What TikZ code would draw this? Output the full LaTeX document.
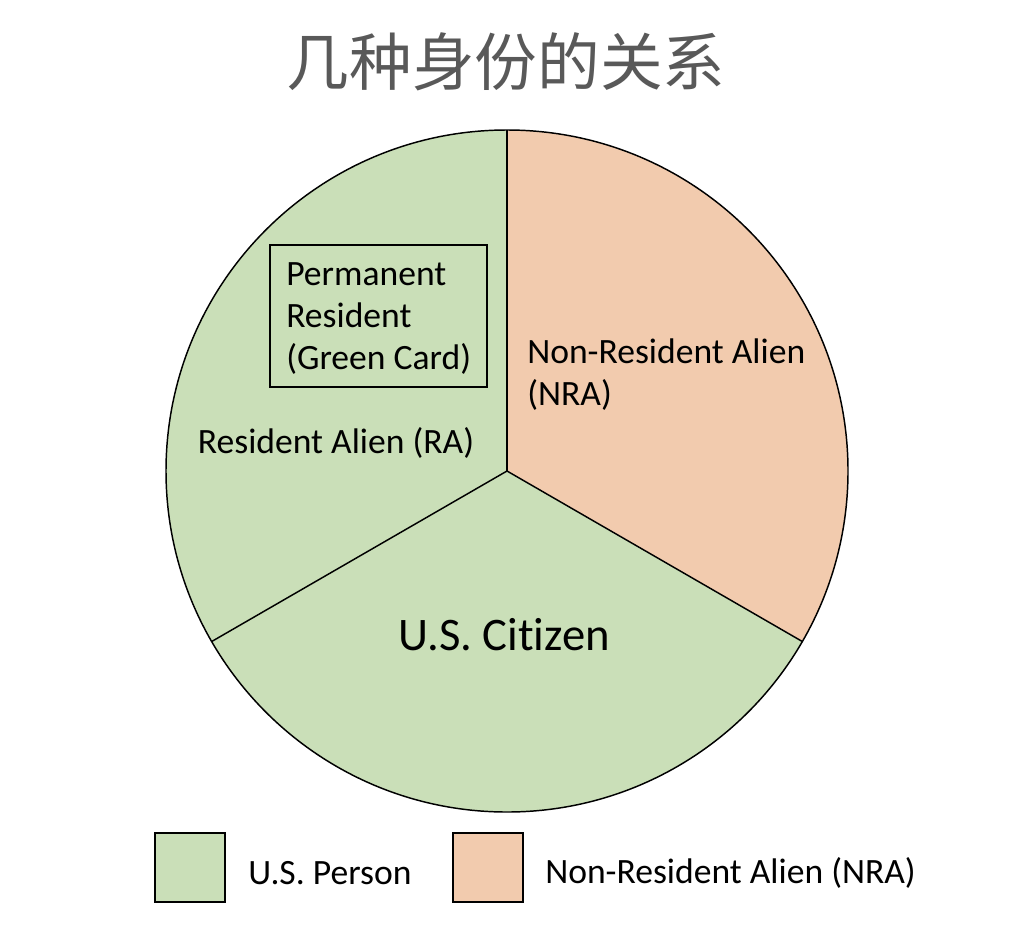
\documentclass[tikz,border=0pt]{standalone}
\usepackage{fontspec}
\setmainfont[Ligatures={NoCommon}]{Carlito}
\newfontfamily\cjk{Noto Sans CJK SC}
\definecolor{usgreen}{HTML}{CADFB8}
\definecolor{nrapeach}{HTML}{F2CBAE}
\definecolor{titlegray}{HTML}{595959}
\begin{document}
\begin{tikzpicture}[x=0.75pt,y=-0.75pt,
  sector/.style={draw=black,line width=1.1pt},
  lbl/.style={font=\fontsize{26.7}{31.5}\selectfont,inner sep=0pt},
  keybox/.style={draw=black,line width=1.2pt,minimum width=70*0.75pt,minimum height=69*0.75pt,inner sep=0pt}]
\useasboundingbox (0,0) rectangle (1012,924);
\coordinate (c) at (507,471);
\coordinate (top) at (507,130);
\coordinate (ll) at (211.7,641.5);
\coordinate (lr) at (802.3,641.5);
% sectors (angles in the y-flipped frame)
\fill[usgreen] (c) -- (top) arc[start angle=-90,end angle=-210,radius=341] -- cycle;
\fill[usgreen] (c) -- (ll) arc[start angle=-210,end angle=-330,radius=341] -- cycle;
\fill[nrapeach] (c) -- (lr) arc[start angle=30,end angle=-90,radius=341] -- cycle;
\draw[sector] (c) circle[radius=341];
\draw[sector] (c) -- (top);
\draw[sector] (c) -- (ll);
\draw[sector] (c) -- (lr);
% title
\node[font=\cjk\fontsize{47}{50}\selectfont,text=titlegray,inner sep=0pt] (title) at (506,62) {几种身份的关系};
% permanent resident box
\node[draw=black,line width=1pt,minimum width=217*0.75pt,minimum height=142*0.75pt,inner sep=0pt] (prbox) at (378.5,316) {};
\node[lbl,align=left,anchor=west] (pr) at (286,319) {Permanent\\Resident\\(Green Card)};
\node[lbl] (ra) at (336,443) {Resident Alien (RA)};
\node[lbl,align=left,anchor=west] (nra) at (527,375) {Non-Resident Alien\\(NRA)};
\node[font=\fontsize{35}{40}\selectfont,inner sep=0pt] (usc) at (504,635) {U.S. Citizen};
% legend
\node[keybox,fill=usgreen] (k1) at (190,867.5) {};
\node[lbl,anchor=west] (k1t) at (248,873) {U.S. Person};
\node[keybox,fill=nrapeach] (k2) at (488,867.5) {};
\node[lbl,anchor=west] (k2t) at (545,873) {Non-Resident Alien (NRA)};
\end{tikzpicture}
\end{document}
